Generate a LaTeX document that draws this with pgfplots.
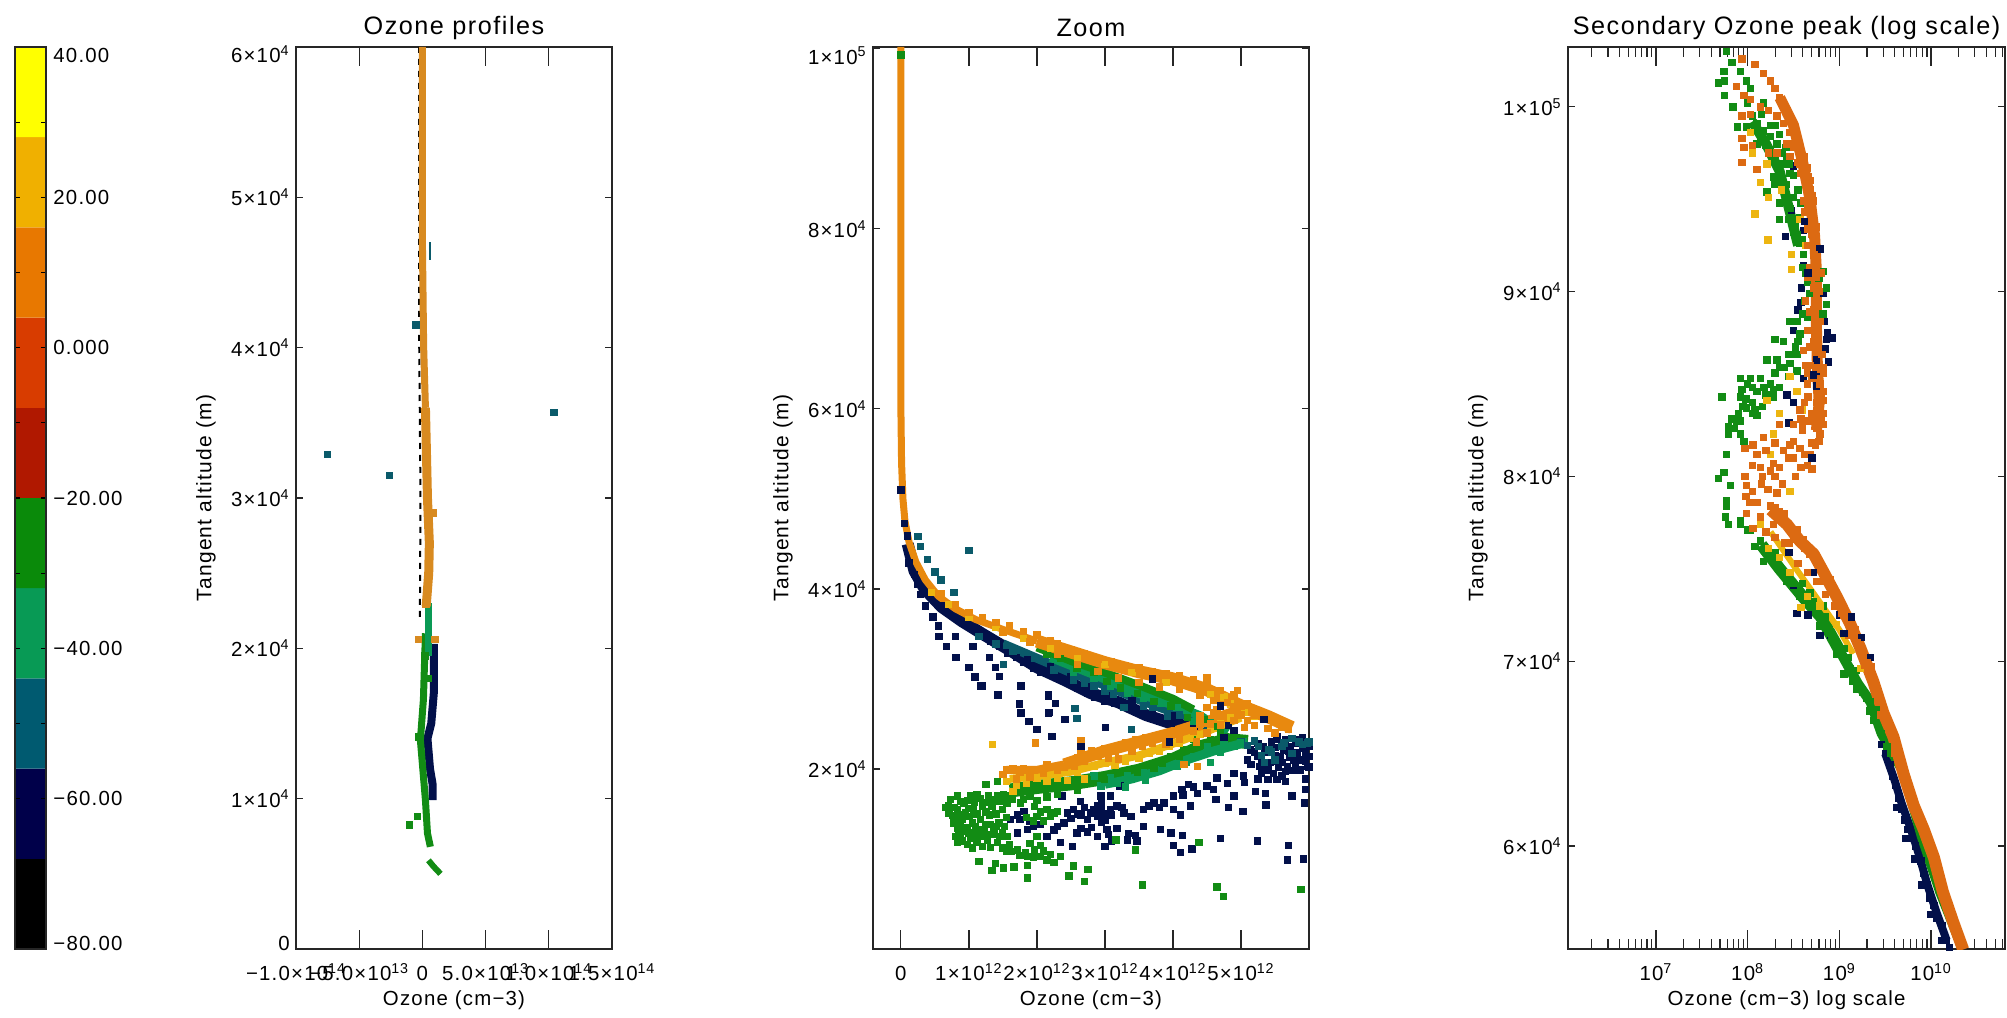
\documentclass[border=0pt]{standalone}
\usepackage{fontspec}
\usepackage{pgfplots}
\pgfplotsset{compat=1.18}
\setmainfont[LetterSpace=6]{Liberation Sans}

\definecolor{cbA}{HTML}{000000}
\definecolor{cbB}{HTML}{00004A}
\definecolor{cbC}{HTML}{005A70}
\definecolor{cbD}{HTML}{089A55}
\definecolor{cbE}{HTML}{0A8A0A}
\definecolor{cbF}{HTML}{B01800}
\definecolor{cbG}{HTML}{D83C00}
\definecolor{cbH}{HTML}{E87800}
\definecolor{cbI}{HTML}{F0B000}
\definecolor{cbJ}{HTML}{FFFF00}
\definecolor{navyd}{HTML}{02104A}
\definecolor{teald}{HTML}{0A5A6A}
\definecolor{sead}{HTML}{0A9A55}
\definecolor{greend}{HTML}{128C14}
\definecolor{goldd}{HTML}{EDB510}
\definecolor{oranged}{HTML}{E8890F}
\definecolor{column}{HTML}{D88A20}
\definecolor{redord}{HTML}{DC6A12}

\newcommand{\sci}[2]{#1×10\textsuperscript{#2}}
\newcommand{\rs}[2]{\raisebox{#1}[0.72em][0pt]{#2}}

\pgfplotsset{
  panel/.style={
    scale only axis, axis line style={line width=0.8pt,black!85},
    height=451pt, tick align=inside, xtick pos=both, ytick pos=both,
    every tick/.style={line width=0.6pt,black!85},
    major tick length=3.5pt, minor tick length=5pt,
    xtick style={/pgfplots/major tick length=9.5pt},
    tick label style={font=\fontsize{10.2}{12}\selectfont,inner sep=0pt},
    xticklabel style={text height=11pt,text depth=0pt},
    xticklabel shift=4.5pt, yticklabel shift=3pt,
    every axis title/.style={at={(axis description cs:0.5,1)},anchor=center,yshift=9.5pt,font=\fontsize{12.6}{15}\selectfont},
    every axis x label/.style={at={(axis description cs:0.5,0)},anchor=center,yshift=-25.5pt,font=\fontsize{10.2}{12}\selectfont},
    every axis y label/.style={at={(axis description cs:0,0.5)},rotate=90,anchor=center,yshift=45pt,font=\fontsize{10.5}{12}\selectfont},
    xlabel={Ozone (cm−3)}, ylabel={Tangent altitude (m)},
  },
  dots/.style={only marks,mark=square*,mark size=1.6pt,color=#1,mark options={line width=0pt}},
  band/.style 2 args={no markers,color=#1,line width=#2,line join=round},
  table/lgt/.style={row sep=\\,x expr={10^\thisrow{lg}},y=km},
}

\begin{document}
\begin{tikzpicture}
\path[use as bounding box] (0,0) rectangle (1003.5pt,508.5pt);

% colour scale
\begin{axis}[
  at={(7.5pt,34pt)}, anchor=south west, scale only axis,
  width=15.5pt, height=451pt, xmin=0, xmax=1, ymin=-80, ymax=40,
  xtick=\empty, ytick={-80,-60,-40,-20,0,20,40}, minor y tick num=1,
  yticklabel pos=right, ytick pos=both, tick align=inside, axis on top,
  major tick length=2.5pt, minor tick length=2.5pt,
  axis line style={line width=0.8pt,black!85},
  every tick/.style={line width=0.6pt,black},
  yticklabels={\rs{3pt}{−80.00},−60.00,−40.00,−20.00,0.000,20.00,\rs{-4pt}{40.00}},
  tick label style={font=\fontsize{10.2}{12}\selectfont,inner sep=0pt},
  yticklabel shift=3.5pt,
  yticklabel style={anchor=west},
]
\addplot[fill=cbA,draw=none] coordinates {(0,-80)(1,-80)(1,-68)(0,-68)(0,-80)};
\addplot[fill=cbB,draw=none] coordinates {(0,-68)(1,-68)(1,-56)(0,-56)(0,-68)};
\addplot[fill=cbC,draw=none] coordinates {(0,-56)(1,-56)(1,-44)(0,-44)(0,-56)};
\addplot[fill=cbD,draw=none] coordinates {(0,-44)(1,-44)(1,-32)(0,-32)(0,-44)};
\addplot[fill=cbE,draw=none] coordinates {(0,-32)(1,-32)(1,-20)(0,-20)(0,-32)};
\addplot[fill=cbF,draw=none] coordinates {(0,-20)(1,-20)(1,-8)(0,-8)(0,-20)};
\addplot[fill=cbG,draw=none] coordinates {(0,-8)(1,-8)(1,4)(0,4)(0,-8)};
\addplot[fill=cbH,draw=none] coordinates {(0,4)(1,4)(1,16)(0,16)(0,4)};
\addplot[fill=cbI,draw=none] coordinates {(0,16)(1,16)(1,28)(0,28)(0,16)};
\addplot[fill=cbJ,draw=none] coordinates {(0,28)(1,28)(1,40)(0,40)(0,28)};
\end{axis}

% full profile, x in 1e13 cm-3, y in km
\begin{axis}[panel, at={(148pt,34pt)}, anchor=south west, width=158pt,
  title={Ozone profiles},
  xmin=-10, xmax=15, ymin=0, ymax=60,
  xtick={-10,-5,0,5,10,15},
  xticklabels={\sci{−1.0}{14},\sci{−5.0}{13},0,\sci{5.0}{13},\sci{1.0}{14},\sci{1.5}{14}},
  ytick={0,10,20,30,40,50,60},
  yticklabels={\rs{3pt}{0},\sci{1}{4},\sci{2}{4},\sci{3}{4},\sci{4}{4},\sci{5}{4},\rs{-4pt}{\sci{6}{4}}},
]
\addplot[band={navyd}{4pt}] coordinates {(0.9,20.3)(0.9,17)(0.7,15)(0.4,14)(0.6,12)(0.8,11)(0.8,9.9)};
\addplot[band={teald}{1pt}] coordinates {(0.6,47)(0.6,45.8)};
\addplot[band={greend}{3.5pt}] coordinates {(0.24,21)(0.08,16.6)(-0.16,13.9)(0.24,9.9)(0.4,7.7)(0.63,6.8)};
\addplot[band={sead}{3.5pt}] coordinates {(0.5,23)(0.5,19.5)};
\addplot[band={greend}{3pt}] coordinates {(0.48,5.9)(0.87,5.5)(1.43,5)};
\addplot[dots=greend] coordinates {(-0.4,8.8)(-1,8.25)(-0.3,14.1)(0.5,18)(0.2,19.5)};
\addplot[dots=teald] coordinates {(10.4,35.7)(-7.5,32.9)(-2.6,31.5)(-0.5,41.5)};
\addplot[band={black}{1pt},dashed] coordinates {(-0.25,60)(-0.25,40)(-0.15,30)(-0.2,22)};
\addplot[band={column}{3.5pt}] coordinates {(0,60)(0,47)(0.1,40)(0.24,36)};
\addplot[band={column}{4.5pt}] coordinates {(0.24,36)(0.4,30)(0.55,27)(0.5,25)(0.3,22.8)};
\addplot[dots=column] coordinates {(1,20.6)(0.3,22.9)(-0.3,20.6)(0.9,29)};
\end{axis}

% zoom, x in 1e12 cm-3, y in km
\begin{axis}[panel, at={(436.5pt,34pt)}, anchor=south west, width=218pt,
  title={Zoom},
  xmin=-0.41, xmax=6, ymin=0, ymax=100.2,
  xtick={0,1,2,3,4,5},
  xticklabels={0,\sci{1}{12},\sci{2}{12},\sci{3}{12},\sci{4}{12},\sci{5}{12}},
  ytick={20,40,60,80,100},
  yticklabels={\sci{2}{4},\sci{4}{4},\sci{6}{4},\sci{8}{4},\rs{-4pt}{\sci{1}{5}}},
]
\addplot[band={navyd}{6pt}] coordinates {(.1,45)(.2,42)(.35,40)(.6,38)(.9,36.4)(1.2,35)(1.6,33.2)(2,31.3)(2.4,29.9)(2.8,28.4)(3.2,27.4)(3.6,26)(4,25)(4.3,24.7)};
% navy, upper branch and its thin strands
\addplot[dots=navyd] coordinates {
(0,51)(.05,47.3)(.1,45.9)(.12,42.9)(.2,41.6)(.25,40.5)(.29,39.4)(.36,38.1)(.47,36.9)(.55,35.9)
(.56,34.7)(.67,33.6)(.81,32.4)(1,31.3)(1.09,30.2)(1.19,29.2)(1.43,28.2)(1.74,27.2)(1.76,26.2)(1.89,25.3)
(2,24.4)(2.23,23.6)(.8,34.7)(1.06,33.6)(1.3,32.4)(1.39,31.3)(1.45,30.3)(1.77,29.2)(2.17,28.2)(2.27,27.3)
(2.18,26.3)(.44,39.6)(.59,38.1)(.83,36.6)(1.08,35.7)(1.2,35.1)(1.32,34.2)(1.45,33.6)(1.57,32.9)(1.7,32.4)
(1.81,31.8)(1.95,31.2)(2.06,30.7)(1.86,32.1)(2.15,30.7)(2.3,30.1)(2.45,29.6)(2.6,29)(2.74,28.4)(2.85,28)
(2.99,27.5)(3.15,27.3)(3.33,27)(3.5,26.3)(3.67,25.7)(3.8,25.3)(3.97,25.1)(4.31,24.7)(2.2,31.4)(2.5,30.3)
(2.8,29.1)(3.1,28.1)(3.4,27.6)(3.7,26.6)(4,25.9)(1.18,29.2)(1.42,28.3)(1.76,29.2)(1.74,27.3)(1.77,26.2)
(1.88,25.3)(1.99,24.4)(2.21,23.6)(2.17,28.1)(2.27,27.3)(2.17,26.2)(2.41,25.5)(3.01,24.6)(2.65,22.7)
(1.71,14.9)(1.81,15.3)(1.61,14.4)(1.71,12.9)(1.86,13.3)(1.95,13.6)(2.15,12.5)(2.3,13.6)(2.45,15.1)(2.54,15.5)
(2.64,16.4)(2.37,17)(2.79,15.1)(2.89,14.7)(2.74,14.4)(2.84,15.5)(3.08,15.5)(3.18,15.9)(3.28,15.1)(3.38,14.7)
(3.08,17)(3.22,18.1)(2.94,17)(2.59,12.9)(2.74,13)(2.89,12.5)(3.03,13.3)(3,11.4)(3.18,13.4)(3.33,12.1)
(3.47,12)(3.57,13.6)(3.57,15.5)(3.72,16.2)(3.87,16.2)(4.01,17)(4.13,17.7)(4.23,18.3)(4.36,17.3)(4.6,17.7)
(4.63,16.6)(4.8,18.4)(4.82,15.7)(4.9,17)(5.03,15.3)(5.21,17.5)(5.36,17.3)(5.37,16)(5.53,18.8)(5.75,17)
(5.95,17.7)(5.93,16.2)(4.01,15.5)(4.11,14.9)(4.26,15.9)(3.82,13.3)(3.97,12.9)(4.14,12.6)(4.01,11.5)(4.11,10.7)
(4.28,11.1)(4.7,12.3)(5.24,12)(5.7,11.5)(5.68,9.9)(5.92,10)(2.35,11.8)(2.52,11.4)(2.95,14.1)(2.9,15.9)
(5.14,22.1)(5.24,21.4)(5.33,22.5)(5.43,20.7)(5.53,23.3)(5.63,22.1)(5.73,22.5)(5.78,21)(5.87,23.3)(5.95,21.8)
(6,22.5)(5.68,20.3)(5.87,19.9)(5.98,20.3)(5.28,20.3)(5.04,19.2)(5.58,21.4)(5.83,21.8)(5.53,23.6)(5.34,25.5)
(4.82,24.8)(5.4,22)(5.5,21.5)(5.72,21.3)(5.9,21)(6,21.4)(5.55,20.2)(5.15,20.5)(5.8,20.2)(5.48,19.5)(5.75,19.8)
(1.75,14.4)(1.9,14.2)(2.05,13.8)(2.25,13.2)(2.4,14)(2.5,14.5)(2.6,15)(2.7,15.7)(2.65,14.9)(2.95,15.4)(3,15)
(3.1,14.9)(3.25,15.7)(2.95,16.1)(3,14.3)(2.8,13.5)(2.65,13.4)(3.05,12.7)(3.1,12)(3.35,12.8)(3.45,12.6)(3.65,15.9)
(3.8,15.7)(4.15,17.1)(4.3,18)(4.5,18.1)(4.65,19)(4.9,19.5)(5.05,18.5)(5.25,18.9)(5.4,18.8)(5.6,19.2)(5.3,19.5)
(5.65,18.6)(5.95,18.9)(5.25,22.8)(5.35,21.8)(5.45,23)(5.5,22.4)(5.6,20.7)(5.65,23.3)(5.7,22)(5.8,22.9)(5.9,22.3)
(5.85,21)(5.95,20.8)(6,20.2)(5.2,21.9)(5.1,21)(5.3,21)(5.4,19.9)(5.5,20.8)(5.65,19.7)(5.9,23.5)};
\addplot[band={teald}{4.5pt}] coordinates {(1.5,33.9)(2,32.3)(2.5,30.7)(3,29.3)(3.5,27.7)(4,26.3)(4.3,25.8)(4.6,24.5)};
\addplot[dots=teald] coordinates {
(5.41,22.1)(5.26,22.5)(5.63,22.9)(5.98,22.9)(.29,44.7)(.39,43.3)(.59,41)(.78,39.6)(.5,41.9)(.25,45.8)(1.51,31.6)
(1.96,32.3)(2.25,31)(2.54,29.9)(2.84,29.2)(3.13,28.3)(3.28,26.8)(3.57,27)(3.92,25.9)(4.31,25.3)(2.56,26.7)(2.59,25.6)
(3.39,24.4)(1,44.3)(1.15,34.7)(1.4,33.9)(1.65,33.1)(2.7,29.5)(3,28.6)(3.7,26.9)(4.1,26)(4.5,24.3)(5,23)(5.2,23.1)(5.75,23.4)
(5.1,22.6)(5.3,21.5)(5.5,21)(5.45,21.9)(5.6,22.5)(5.9,22.7)(5.75,21.7)(5.35,20.7)(6,23)(5.85,23)};
\addplot[band={sead}{4.5pt}] coordinates {(2.2,32.4)(2.6,31.2)(3,30)(3.5,28.4)(4,27.1)(4.4,25.9)(4.8,24)};
\addplot[band={greend}{4pt}] coordinates {(2,33.5)(2.5,32)(3,30.7)(3.5,29.3)(4,27.8)(4.3,26.6)};
\addplot[band={greend}{7pt}] coordinates {(1.6,17.6)(2,18)(2.5,18.4)(3,19)(3.5,19.8)(4,21)(4.4,22.4)(4.8,23.2)(5.1,23)};
\addplot[band={sead}{4.5pt}] coordinates {(3,18.3)(3.4,18.9)(3.8,19.8)(4.2,21)(4.6,22)(5,22.8)(5.1,23)};
\addplot[dots=sead] coordinates {
(2.54,30.7)(2.84,30.1)(3.08,29.2)(3.33,28.4)(3.57,27.9)(3.82,27.3)(4.06,26.8)(4.31,25.3)(4.55,25.1)(4.5,22.5)
(4.75,22.9)(4.9,22.5)(4.55,20.7)(4.31,21.4)(4.06,20.3)(3.82,19.9)(3.57,19.6)(3.33,19.2)(3.08,19)(2.84,19.2)
(2.94,18.1)(3.18,18.4)(4.99,22.9)(3.3,18)(3.6,18.7)(4.7,21.8)(4.2,20.7)};
\addplot[dots=greend] coordinates {
(2.35,32.3)(2.15,32.7)(2.59,31.2)(2.84,30.7)(3.03,29.7)(3.23,29)(3.48,28.4)(3.72,27.5)(3.97,27)(4.21,25.7)
(4.46,25.5)(4.6,24.7)(4.31,23.3)(4.16,22.1)(3.97,21.4)(3.72,20.1)(3.48,19.6)(3.23,19.6)(2.99,18.8)(2.74,18.8)
(2.45,18.4)(2.25,18.1)(2,17.9)(1.76,17.7)(1.56,17)(1.42,18.6)(3.85,20.6)(4.1,21.4)(4.4,22.6)(4.7,24)(4.55,23.3)
(2.6,17.6)(2.3,17.2)
(.66,15.7)(.73,16.6)(.83,17)(.93,16.2)(1.02,17)(1.12,17.1)(1.25,18.3)(1.29,17)(1.42,17)(1.51,17.1)(1.64,16.6)
(1.76,16.2)(1.96,15.8)(2.15,15.5)(2.3,15.3)(.71,15.1)(.83,15.5)(.95,15.1)(1.07,15.5)(1.2,15.9)(1.34,15.9)(1.49,15.5)
(2,14.7)(2.2,14.7)(.78,14)(.9,14.4)(1.05,14)(1.17,14.4)(1.32,13.8)(1.44,14)(1.56,12.5)(.8,12.5)(.93,13.1)(1.07,12.9)
(1.22,13.1)(1.37,13.3)(1.49,12.9)(.83,11.8)(.98,11.6)(1.12,11.8)(1.27,12.1)(1.42,11.8)(1.56,10.9)(1.71,11)(1.83,10.7)
(1.96,11)(2.05,10.3)(2.25,9.6)(2.35,10.3)(2,12.5)(1.86,10.3)(1.15,9.7)(1.39,9.5)(1.51,9)(1.66,9.1)(1.34,8.7)
(1.86,9.3)(1.86,7.9)(2.47,8.1)(2.54,9.2)(2.75,8.8)(2.7,7.5)(3.55,7.1)(4.65,6.9)(4.74,5.8)(5.88,6.6)(3.45,11)(3.16,12.1)
(4.38,11.8)(.88,13.8)(1,14.7)(1.15,13.2)(1.3,14.9)(.88,12.3)(1.02,12.3)(1.2,12.5)(1.35,12.7)(1.6,11.6)(0,99.3)
(.7,15.9)(.78,15.7)(.88,16.4)(.98,16.5)(1.08,16.3)(1.17,16.7)(1.25,16.3)(1.35,16.6)(1.45,16.4)(1.56,16.2)(.76,14.8)
(.86,14.9)(1,15.6)(1.12,15)(1.25,15.2)(1.4,15)(1.55,14.6)(.83,13.4)(.98,13.5)(1.1,13.6)(1.25,13.8)(1.4,13.6)(1.52,13.6)
(.85,12.9)(.9,12)(1,12.8)(1.12,12.4)(1.28,12.7)(1.45,12.5)(1.05,11.2)(1.2,11.4)(1.32,11.3)(1.5,11.2)(1.62,10.8)(1.9,11.7)
(2.05,11.5)(2.1,10.9)(1.75,10.4)(1.95,10.2)(2.15,9.9)(2.2,10.5)(1.85,14.6)(2.05,15.2)(2.25,15.1)(1.95,14.2)(2.1,14.2)
(1.8,16.6)(2,16.5)(1.9,17)(2.15,16.9)};
\addplot[band={goldd}{4pt}] coordinates {(1.6,18.9)(2,19.2)(2.5,19.7)(3,20.7)(3.5,21.5)(4,22.8)(4.5,24.2)(5,25.7)};
\addplot[dots=goldd] coordinates {
(1.55,18.6)(1.7,18.2)(1.65,17.5)(1.85,18.4)(2,19)(2.15,18.6)(2.3,19)(2.45,18.7)(2.6,19.6)(2.7,18.9)(2.85,20.3)
(3,20.6)(3.15,20.4)(3.3,20.9)(3.5,21.2)(3.65,21.7)(3.8,22)(3.95,22.5)(4.1,22.9)(4.25,23.4)(4.4,23.8)(4.55,24.4)
(4.7,25)(4.85,25.7)(5.05,26.3)(5.2,25.9)(4.75,28)(4.85,27.2)(4.55,28.3)(3.9,29.6)(3.4,30.7)(3,31.6)(2.6,32.3)
(2.2,33.4)(1.8,34.5)(1.4,35.7)(1,36.9)(.7,38.3)(.45,39.6)(1.35,22.7)};
\addplot[band={oranged}{6pt}] coordinates {(2.4,20.5)(2.6,21)(3,22)(3.5,23)(4,24)(4.5,25.2)(5,26.5)};
\addplot[band={oranged}{4pt}] coordinates {(1.55,19.9)(2,19.9)(2.4,20.5)};
\addplot[band={oranged}{3.5pt}] coordinates {
(0,100.2)(0,60)(0.01,54)(0.03,50)(0.06,47.5)(0.12,45.2)(0.22,43)(0.36,41)(0.55,39.2)(0.8,37.8)(1.1,36.6)(1.5,35.5)(2,34.2)};
\addplot[band={oranged}{6.5pt}] coordinates {(2,34.2)(2.5,33)(3,31.8)(3.5,30.8)(4,30)(4.5,28.8)(5,27)(5.4,25.8)(5.75,24.6)};
\addplot[dots=oranged] coordinates {
(.6,39.5)(.8,38.2)(1,37.4)(1.2,36.8)(1.4,36.3)(1.6,35.9)(1.8,35.3)(2,34.9)(2.2,34.2)(1.5,35.2)(1.9,34.1)
(2.3,33.9)(2.5,33.2)(2.7,32.8)(2.9,32.2)(3.1,31.9)(3.3,31.5)(3.5,31.2)(3.7,30.8)(3.9,30.6)(4.1,30.4)(4.3,29.9)
(4.5,29.6)(4.5,30.1)(4.7,28.7)(4.9,28.2)(4.95,28.7)(5.1,27.2)(5.3,26.3)(5.5,25.5)(5.7,24.8)
(2.3,32.7)(2.6,31.6)(2.9,30.8)(3.2,30.1)(3.5,29.6)(3.8,29.1)(4.1,28.8)(4.4,28.2)(4.6,27.6)(4.65,26.6)(4.7,25.8)
(4.9,26.9)(5,26)(5.1,25.4)(5.2,24.8)(5.4,24.5)(5.5,24)(5.6,24.6)(5.7,24.4)(4.5,26.8)(4.4,25.9)
(4.6,26.2)(4.8,27.4)(4.9,25.4)(5,27)(5.05,24.6)(4.7,24.9)(4.55,25)(5.2,26)
(1.56,19.9)(1.5,19.4)(1.65,20)(1.75,19.6)(1.8,20)(1.7,18.9)(1.9,19.1)(2.1,19.5)(2.15,20.5)(2.3,19.8)(2.4,20.2)
(2.55,20.3)(2.6,21.3)(2.65,21.8)(2.7,20.9)(2.8,22)(2.9,21.4)(3,22.3)(3.05,21.2)(3.15,22)(3.2,21.1)(3.3,22.9)
(3.4,22)(3.45,23.2)(3.55,22.5)(3.6,23.5)(3.7,22.8)(3.8,23.4)(3.9,22.7)(4,24)(4.1,23.3)(4.2,24.5)(4.3,24.2)
(4.35,23)(4.4,25)(4.5,24)(4.36,20.3)(4.16,20.5)(1.98,22.9)(2.65,23.1)};
\addplot[dots=navyd] coordinates {(3.7,30)(4.7,27)(5.35,25.5)(4.9,24.3)(3.95,23)(4.75,23.5)(2.65,22.5)};
\end{axis}

% secondary peak, column lg is log10 of the density, km the altitude
\begin{axis}[panel, at={(784pt,34pt)}, anchor=south west, width=218.5pt,
  title={Secondary Ozone peak (log scale)},
  xlabel={Ozone (cm−3) log scale},
  xmode=log, xmin=1.1e6, xmax=6.4e10, ymin=54.43, ymax=103.24,
  xtick={1e7,1e8,1e9,1e10},
  xticklabels={10\textsuperscript{7},10\textsuperscript{8},10\textsuperscript{9},10\textsuperscript{10}},
  minor xtick={2e6,3e6,4e6,5e6,6e6,7e6,8e6,9e6,2e7,3e7,4e7,5e7,6e7,7e7,8e7,9e7,
    2e8,3e8,4e8,5e8,6e8,7e8,8e8,9e8,2e9,3e9,4e9,5e9,6e9,7e9,8e9,9e9,2e10,3e10,4e10,5e10,6e10},
  ytick={60,70,80,90,100},
  yticklabels={\sci{6}{4},\sci{7}{4},\sci{8}{4},\sci{9}{4},\sci{1}{5}},
]
\addplot[band={navyd}{4pt}] table[lgt] {lg km\\
10.17 54.9\\10.06 56.4\\9.96 57.9\\9.87 59.5\\9.78 60.9\\9.68 62.3\\9.6 63.6\\9.5 65\\};
\addplot[dots=navyd] table[lgt] {lg km\\
10.17 54.9\\10.06 56.1\\9.99 57.2\\9.92 58.5\\9.83 60\\9.74 60.9\\9.68 62\\9.61 63.3\\9.55 64.4\\9.46 65.5\\
10.2 54.5\\10.12 55.7\\10.03 56.8\\9.96 57.9\\9.89 59.2\\9.8 60.4\\9.71 61.4\\9.65 62.6\\9.58 63.8\\9.5 65\\
10.12 54.9\\10 56.3\\9.9 57.9\\9.82 59.3\\9.72 60.4\\9.63 62.1\\
8.41 93\\8.5 96.8\\8.48 94.4\\8.61 93.3\\8.79 92.3\\8.61 91.4\\8.59 90.2\\8.83 89.9\\8.55 89\\8.84 88.4\\
8.5 87.9\\8.86 87.4\\8.92 87.5\\8.75 86.3\\8.88 86.2\\8.45 86.6\\8.61 85.3\\8.75 84.9\\8.43 84.4\\8.5 84\\
8.45 82.9\\8.45 75.9\\8.72 74.8\\8.5 74.1\\9 72.5\\9.13 72.4\\8.54 72.6\\8.66 72.5\\8.79 71.4\\9.24 71.3\\
9.34 70.2\\8.9 71.4\\8.87 87.8\\8.85 86.9\\8.58 89.4\\8.8 85.7\\};
\addplot[band={greend}{5pt}] table[lgt] {lg km\\
10.3 55\\10.1 57.5\\9.9 60.5\\9.7 64\\9.46 66.1\\9.34 67.8\\9.2 68.8\\9 70.6\\};
\addplot[band={greend}{6pt}] table[lgt] {lg km\\
8.15 76.3\\8.35 75\\8.6 73.5\\8.8 72.4\\9 70.6\\};
\addplot[band={greend}{5pt}] table[lgt] {lg km\\
8.05 99.2\\8.2 98\\8.35 96.5\\8.45 94.5\\8.55 92.5\\};
\addplot[dots=greend] table[lgt] {lg km\\
7.77 103\\7.83 102.4\\7.92 101.9\\7.74 101.9\\7.68 101.3\\7.75 101.4\\7.99 101.4\\8.03 101\\7.75 100.6\\7.84 100\\
7.89 98.9\\8.17 100.2\\7.99 98.9\\8.1 99.1\\8.17 98.7\\8.25 98.4\\8.32 98\\8.14 98.2\\8.25 97.6\\8.43 97.1\\
8.32 96.9\\8.28 96.2\\8.46 96.4\\8.39 95.5\\8.5 95.1\\8.21 95.4\\8.35 94.8\\8.46 94.5\\8.57 94\\8.35 93.9\\
8.54 93.1\\8.57 92.6\\8.61 92\\8.83 91.1\\8.86 90.2\\8.68 89.9\\8.86 89.3\\8.54 88.4\\8.46 88.4\\8.57 87.7\\
8.3 87.4\\8.39 87.3\\8.54 86.6\\8.21 86.3\\8.32 86.3\\8.46 86.1\\8.54 85.7\\8.14 85.3\\7.92 85.3\\8.03 85.3\\
8.18 84.8\\8.28 84.7\\8.35 84.8\\7.94 84.7\\7.72 84.3\\8.2 84.4\\8.28 84.3\\7.92 84.3\\7.99 83.7\\8.08 83.6\\
8.16 83.8\\7.9 83.4\\8.05 83.4\\7.83 83.1\\7.79 82.7\\7.92 83\\7.79 82.3\\7.92 82.3\\7.96 81.9\\7.77 81.2\\
7.74 80.2\\7.68 79.9\\7.81 79.5\\7.77 78.7\\7.76 77.8\\7.92 77.6\\8 77.1\\8.08 76.2\\8.17 75.4\\8.32 75.4\\
8.43 74.3\\8.57 73.5\\8.68 73.7\\8.83 73\\8.79 71.9\\8.9 71.5\\8.97 70.4\\9.05 69.3\\9.15 68.9\\9.19 68.5\\
9.3 68\\9.37 66.8\\9.46 66.1\\7.77 78.4\\7.79 77.4\\7.92 77.4\\8.03 77.1\\8.14 76.5\\8.28 75.4\\8.46 74.3\\
8.61 73.5\\8.79 72.4\\9 70.4\\9.12 69.6\\9.21 68.7\\9.34 67.8\\8.4 96.9\\8.52 93.6\\8.3 99\\8.42 97.8\\8.1 98\\
8.05 99.5\\8 100.2\\8.15 99.6\\8.25 99\\8.35 98.5\\8.2 97.9\\8.38 97.5\\8.3 97.3\\8.45 96.9\\8.5 96.3\\8.35 96.2\\
8.42 95.8\\8.55 95.5\\8.3 95.8\\8.58 94.8\\8.45 93.9\\8.5 93.2\\8.6 92.8\\8.6 91.3\\8.63 91\\8.65 90.5\\8.78 90.7\\
8.62 89.5\\8.6 88.8\\8.82 88.8\\8.65 88.6\\8.55 87.3\\8.52 87\\8.45 86.6\\8.4 85.9\\8.35 85.9\\8.45 85.4\\8.3 85.6\\
8.25 85\\8.05 84.8\\8.1 84.6\\8 85\\7.98 84.2\\8.05 84\\7.95 83.8\\8.1 83.3\\7.88 83\\7.85 82.6\\
8.3 75.9\\8.38 74.8\\8.5 74.2\\8.6 74.2\\8.72 73.2\\8.85 72.4\\8.92 71.3\\9.05 70.7\\9.1 70.2\\9.18 69.5\\9.25 68.3\\
9.33 67.3\\9.4 67.4\\9.52 65.4\\9.56 65\\};
\addplot[band={goldd}{3pt}] table[lgt] {lg km\\
8.25 77\\8.5 75.2\\8.7 73.8\\9 71.7\\9.15 70.4\\};
\addplot[dots=goldd] table[lgt] {lg km\\
8.03 98.6\\8.05 97.5\\8.14 95.9\\8.08 94.2\\8.22 92.8\\8.48 92\\8.48 91.2\\8.23 95.1\\8.21 96.9\\8.37 95.5\\
8.57 93.9\\8.63 92.5\\8.65 86\\8.46 85.4\\8.54 84.6\\8.35 83.4\\8.28 82.3\\8.25 81.2\\8.21 84.1\\8.46 79.2\\
8.14 77.4\\8.23 76.1\\8.35 75.6\\8.46 74.8\\8.65 73.5\\8.79 73\\8.97 72\\9.23 69.6\\8.6 83.6\\8.58 72.9\\};
\addplot[band={redord}{5.5pt}] table[lgt] {lg km\\
8.35 100.5\\8.5 99\\8.6 97\\8.68 95\\8.73 93\\8.75 91\\8.75 88\\8.76 86\\8.78 84\\8.75 82.5\\};
\addplot[band={redord}{6pt}] table[lgt] {lg km\\
10.35 54.4\\10.24 55.9\\10.13 57.5\\10.03 59.4\\9.92 60.9\\9.81 62.2\\9.7 63.9\\9.59 65.9\\9.48 67.2\\9.37 68.9\\
9.23 70.7\\9.12 72\\8.97 73.5\\8.83 74.8\\8.72 75.8\\8.57 76.5\\8.43 77.4\\8.25 78.2\\};
\addplot[dots=redord] table[lgt] {lg km\\
7.94 102.6\\8.08 102.3\\8.17 101.8\\8.25 101.4\\8.3 101\\8.35 100.5\\8.43 99.8\\8.5 99.1\\8.54 98.4\\8.59 97.5\\
8.66 96.2\\8.72 94.9\\8.75 93.5\\8.75 91.7\\8.75 89.9\\8.75 88.1\\8.83 85.9\\8.83 84.1\\8.79 82.3\\
7.88 101.1\\7.96 100.6\\8.03 100.4\\8.14 100\\8.23 99.8\\8.32 99.5\\8.39 99.1\\7.94 99.5\\8.03 99.6\\8.46 98.6\\
8.43 98\\8.5 97.8\\8.57 96.9\\8.65 96.7\\7.94 98.3\\7.96 97.8\\8.05 97.9\\7.94 97\\8.1 96.6\\8.23 97.5\\8.32 97.5\\
8.46 97.3\\8.63 95.8\\8.68 95.5\\8.61 94.9\\8.72 94.2\\8.66 94.6\\8.7 93.1\\8.75 92.8\\8.68 91.3\\8.75 90.8\\
8.72 90.2\\8.63 89.5\\8.72 89\\8.79 88.4\\8.65 87.9\\8.72 87.3\\8.61 86.8\\8.81 86.6\\8.68 86\\8.83 85.6\\8.65 85\\
8.83 84.6\\8.66 84.3\\8.75 84\\8.83 83.4\\8.57 83.6\\8.65 83\\8.75 82.6\\8.5 82.8\\8.35 82.8\\8.17 82.1\\8.06 81.7\\
7.97 81.5\\8.74 81.7\\8.57 81.5\\8.46 81.7\\8.5 81\\8.39 81.4\\8.68 81.2\\8.28 80.7\\8.14 80.5\\8.35 80.5\\8.65 80.6\\
7.97 80\\8.16 80\\8.52 80\\8.25 80.3\\7.99 79.5\\8.1 78.6\\7.99 78\\8.25 78.4\\8.32 79.1\\8.14 77.8\\8.28 77.4\\
8.43 77.4\\8.54 77.1\\8.61 76.6\\8.06 77.2\\8.68 75.8\\8.75 75.4\\8.3 76.7\\8.8 74.3\\8.95 73\\9.02 72.6\\9.1 71.4\\
9.2 71\\9.28 69.8\\9.4 68.4\\9.45 67.1\\8.79 85\\8.8 83\\8.7 83.4\\8.62 84\\8.6 82.5\\
8.5 76.6\\8.62 76.1\\8.78 75.3\\8.9 74.4\\9 73\\9.05 72.5\\9.17 71.7\\9.3 69.9\\9.42 68\\9.52 66.8\\9.6 65\\9.35 69.7\\
8.4 76.4\\8.55 75.3\\8.65 74.8\\8.75 74.3\\8.85 73.6\\8.5 98\\8.58 96.4\\8.55 97\\8.62 97.3\\8.68 96\\8.7 95.2\\
8.62 94.3\\8.65 93.4\\8.65 92.5\\8.73 92\\8.8 91\\8.78 90\\8.65 90.8\\8.68 88.9\\8.77 87.5\\8.68 87\\8.63 86\\8.65 85.6\\
8.7 85.3\\8.75 85.8\\8.8 84.5\\8.72 83\\8.82 82.8\\8.6 82.7\\8.58 83.1\\8.78 81.9\\8.7 81.8\\8.62 81.2\\8.45 81\\
8.2 81.4\\8.3 81.8\\8.1 81.2\\8.15 79.6\\8.22 79.3\\8.05 79.2\\8.3 78.3\\8.4 78\\8.35 78.1\\8.02 78.6\\7.98 78.9\\
8.2 77\\8.45 76.4\\8.5 81.9\\8.3 80\\8.38 79.6\\8.05 80.6\\8.7 80.4\\8.58 80.5\\};
\addplot[dots=navyd] table[lgt] {lg km\\
8.62 93.8\\8.72 85.5\\8.66 91\\9.05 71.5\\8.7 81\\};
\end{axis}
\end{tikzpicture}
\end{document}
